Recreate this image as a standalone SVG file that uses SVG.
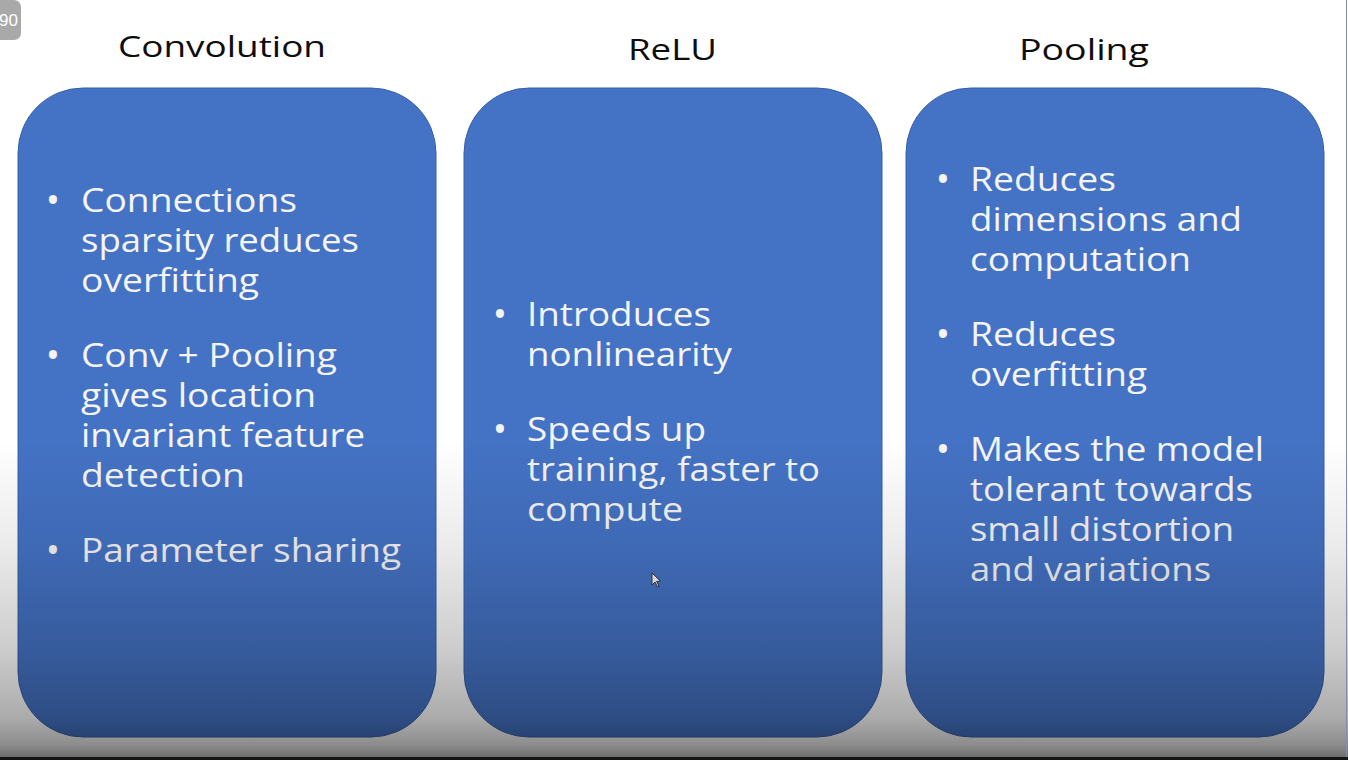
<svg xmlns="http://www.w3.org/2000/svg" width="1348" height="760" viewBox="0 0 1348 760">
  <defs>
    <linearGradient id="shade" x1="0" y1="0" x2="0" y2="760" gradientUnits="userSpaceOnUse">
      <stop offset="0.58" stop-color="#000" stop-opacity="0"/>
      <stop offset="0.72" stop-color="#000" stop-opacity="0.08"/>
      <stop offset="0.855" stop-color="#000" stop-opacity="0.2"/>
      <stop offset="0.945" stop-color="#000" stop-opacity="0.33"/>
      <stop offset="0.98" stop-color="#000" stop-opacity="0.45"/>
      <stop offset="0.996" stop-color="#000" stop-opacity="0.57"/>
    </linearGradient>
  </defs>
  <style>
    .box { fill: #4472C4; stroke: #3760A8; stroke-width: 1; }
    .title { font-family: "Open Sans", "Liberation Sans", sans-serif; font-size: 30px; fill: #0d0d0d; }
    .item { font-family: "Open Sans", "Liberation Sans", sans-serif; font-size: 32px; fill: #F4F4F4; }
    .bul { font-family: "Open Sans", "Liberation Sans", sans-serif; font-size: 38px; fill: #F4F4F4; text-anchor: middle; }
  </style>
  <rect x="0" y="0" width="1348" height="760" fill="#ffffff"/>

  <g id="convolution">
    <text class="title" x="118" y="57" textLength="208" lengthAdjust="spacingAndGlyphs">Convolution</text>
    <rect class="box" x="18" y="88" width="418" height="649" rx="65" ry="65"/>
    <text class="bul" x="53" y="214">•</text>
    <text class="item" x="81" y="212" textLength="216" lengthAdjust="spacingAndGlyphs">Connections</text>
    <text class="item" x="81" y="252" textLength="278" lengthAdjust="spacingAndGlyphs">sparsity reduces</text>
    <text class="item" x="81" y="292" textLength="178" lengthAdjust="spacingAndGlyphs">overfitting</text>
    <text class="bul" x="53" y="369">•</text>
    <text class="item" x="81" y="367" textLength="256" lengthAdjust="spacingAndGlyphs">Conv + Pooling</text>
    <text class="item" x="81" y="407" textLength="235" lengthAdjust="spacingAndGlyphs">gives location</text>
    <text class="item" x="81" y="447" textLength="284" lengthAdjust="spacingAndGlyphs">invariant feature</text>
    <text class="item" x="81" y="487" textLength="164" lengthAdjust="spacingAndGlyphs">detection</text>
    <text class="bul" x="53" y="564">•</text>
    <text class="item" x="81" y="562" textLength="320" lengthAdjust="spacingAndGlyphs">Parameter sharing</text>
  </g>

  <g id="relu">
    <text class="title" x="628" y="60" textLength="89" lengthAdjust="spacingAndGlyphs">ReLU</text>
    <rect class="box" x="464" y="88" width="418" height="649" rx="65" ry="65"/>
    <text class="bul" x="500" y="328">•</text>
    <text class="item" x="527" y="326" textLength="184" lengthAdjust="spacingAndGlyphs">Introduces</text>
    <text class="item" x="527" y="366" textLength="205" lengthAdjust="spacingAndGlyphs">nonlinearity</text>
    <text class="bul" x="500" y="443">•</text>
    <text class="item" x="527" y="441" textLength="179" lengthAdjust="spacingAndGlyphs">Speeds up</text>
    <text class="item" x="527" y="481" textLength="293" lengthAdjust="spacingAndGlyphs">training, faster to</text>
    <text class="item" x="527" y="521" textLength="156" lengthAdjust="spacingAndGlyphs">compute</text>
  </g>

  <g id="pooling">
    <text class="title" x="1019" y="60" textLength="130" lengthAdjust="spacingAndGlyphs">Pooling</text>
    <rect class="box" x="906" y="88" width="418" height="649" rx="65" ry="65"/>
    <text class="bul" x="943" y="193">•</text>
    <text class="item" x="970" y="191" textLength="146" lengthAdjust="spacingAndGlyphs">Reduces</text>
    <text class="item" x="970" y="231" textLength="272" lengthAdjust="spacingAndGlyphs">dimensions and</text>
    <text class="item" x="970" y="271" textLength="221" lengthAdjust="spacingAndGlyphs">computation</text>
    <text class="bul" x="943" y="348">•</text>
    <text class="item" x="970" y="346" textLength="146" lengthAdjust="spacingAndGlyphs">Reduces</text>
    <text class="item" x="970" y="386" textLength="177" lengthAdjust="spacingAndGlyphs">overfitting</text>
    <text class="bul" x="943" y="463">•</text>
    <text class="item" x="970" y="461" textLength="294" lengthAdjust="spacingAndGlyphs">Makes the model</text>
    <text class="item" x="970" y="501" textLength="283" lengthAdjust="spacingAndGlyphs">tolerant towards</text>
    <text class="item" x="970" y="541" textLength="264" lengthAdjust="spacingAndGlyphs">small distortion</text>
    <text class="item" x="970" y="581" textLength="241" lengthAdjust="spacingAndGlyphs">and variations</text>
  </g>

  <g id="cursor">
    <path d="M652,573 L652,585 L655,582 L657.5,587 L659,586.3 L656.6,581.4 L660.5,581.2 Z" fill="#f2f2f2" stroke="#1a1a2a" stroke-width="0.8"/>
  </g>

  <rect x="0" y="0" width="1348" height="760" fill="url(#shade)"/>
  <rect x="0" y="757" width="1348" height="3" fill="#141414"/>
  <line x1="1346.5" y1="0" x2="1346.5" y2="757" stroke="#7f90a6" stroke-width="1"/>

  <g id="badge">
    <rect x="-10" y="0" width="31" height="40" rx="7" ry="7" fill="#a9a9a9"/>
    <text x="-1" y="26" font-family="'Liberation Sans', Arial, sans-serif" font-size="17" fill="#ffffff">90</text>
  </g>
</svg>
